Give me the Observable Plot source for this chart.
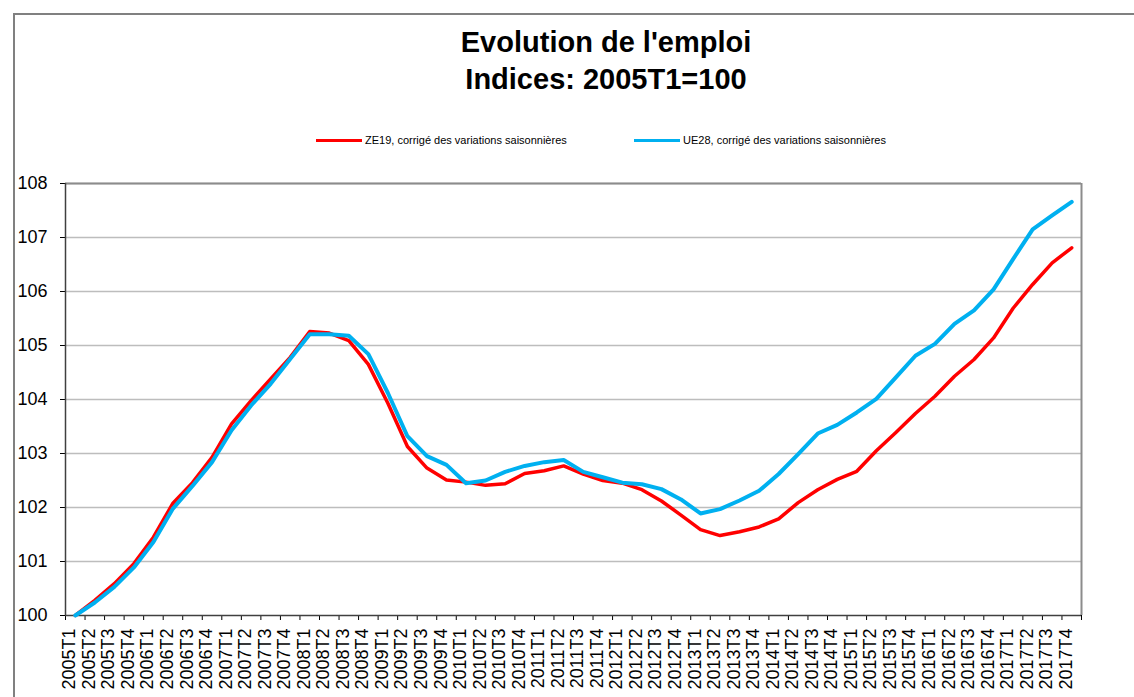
<!DOCTYPE html>
<html>
<head>
<meta charset="utf-8">
<script src="https://cdn.jsdelivr.net/npm/d3@7"></script>
<script src="https://cdn.jsdelivr.net/npm/@observablehq/plot@0.6"></script>
<style>
  html, body { margin: 0; padding: 0; background: #fff; }
  body { position: relative; width: 1134px; height: 697px; overflow: hidden; font-family: "Liberation Sans", Arial, sans-serif; }
  #border { position: absolute; left: 13px; top: 13px; width: 1200px; height: 800px; border-left: 2px solid #808080; border-top: 2px solid #808080; }
  #title { position: absolute; left: 0; width: 1212px; top: 24px; text-align: center; font-weight: bold; font-size: 29px; line-height: 37px; color: #000; }
  .leg { position: absolute; top: 132px; font-size: 11px; line-height: 16px; color: #000; white-space: nowrap; }
  .leg span.sw { display: inline-block; width: 46px; height: 3px; vertical-align: middle; margin-right: 3px; position: relative; top: -1px; }
  #chart { position: absolute; left: 0; top: 170px; }
  #chart svg { font-family: "Liberation Sans", Arial, sans-serif; }
</style>
</head>
<body>
<div id="border"></div>
<div id="title">Evolution de l'emploi<br>Indices: 2005T1=100</div>
<div id="legend"></div>
<div id="chart"></div>
<script>
const quarters = ["2005T1","2005T2","2005T3","2005T4","2006T1","2006T2","2006T3","2006T4",
  "2007T1","2007T2","2007T3","2007T4","2008T1","2008T2","2008T3","2008T4",
  "2009T1","2009T2","2009T3","2009T4","2010T1","2010T2","2010T3","2010T4",
  "2011T1","2011T2","2011T3","2011T4","2012T1","2012T2","2012T3","2012T4",
  "2013T1","2013T2","2013T3","2013T4","2014T1","2014T2","2014T3","2014T4",
  "2015T1","2015T2","2015T3","2015T4","2016T1","2016T2","2016T3","2016T4",
  "2017T1","2017T2","2017T3","2017T4"];
const ze19 = [100, 100.28, 100.59, 100.96, 101.45, 102.08, 102.46, 102.93, 103.55, 103.98, 104.38, 104.78,
  105.26, 105.23, 105.09, 104.65, 103.93, 103.13, 102.73, 102.51, 102.47, 102.41, 102.44, 102.63,
  102.68, 102.77, 102.62, 102.50, 102.45, 102.33, 102.12, 101.86, 101.59, 101.48, 101.55, 101.64,
  101.79, 102.09, 102.33, 102.52, 102.67, 103.05, 103.39, 103.74, 104.06, 104.43, 104.74, 105.14,
  105.69, 106.13, 106.53, 106.81];
const ue28 = [100, 100.24, 100.53, 100.89, 101.36, 101.98, 102.40, 102.84, 103.43, 103.89, 104.29, 104.75,
  105.21, 105.21, 105.18, 104.84, 104.12, 103.32, 102.95, 102.79, 102.45, 102.50, 102.66, 102.77,
  102.84, 102.88, 102.66, 102.56, 102.46, 102.43, 102.34, 102.15, 101.89, 101.97, 102.13, 102.31,
  102.62, 102.99, 103.37, 103.53, 103.76, 104.01, 104.41, 104.81, 105.03, 105.40, 105.65, 106.04,
  106.60, 107.15, 107.41, 107.66];
const yTicks = [100, 101, 102, 103, 104, 105, 106, 107, 108];
const seriesNames = ["ZE19, corrigé des variations saisonnières", "UE28, corrigé des variations saisonnières"];
const seriesColors = ["#ff0000", "#00b0f0"];

// legend
const legend = document.getElementById("legend");
const legLeft = [316, 634];
seriesNames.forEach((n, k) => {
  const d = document.createElement("div");
  d.className = "leg";
  d.style.left = legLeft[k] + "px";
  d.innerHTML = `<span class="sw" style="background:${seriesColors[k]}"></span>${n}`;
  legend.appendChild(d);
});

const idx = quarters.map((q, i) => i);
const bounds = [-0.5, ...idx.map(i => i + 0.5)];
const redData = ze19.map((v, i) => ({i, v}));
const blueData = ue28.map((v, i) => ({i, v}));

const chart = Plot.plot({
  width: 1134,
  height: 527,
  marginTop: 13,
  marginBottom: 82,
  marginLeft: 65,
  marginRight: 53,
  style: {fontSize: "18px", fontFamily: "Liberation Sans, Arial, sans-serif", color: "#000", background: "transparent"},
  x: {type: "linear", domain: [-0.5, quarters.length - 0.5], ticks: bounds, tickSize: 5, tickFormat: () => "", label: null},
  y: {domain: [100, 108], ticks: yTicks, tickSize: 5, tickPadding: 13, tickFormat: d => String(d), label: null},
  marks: [
    Plot.ruleY(yTicks.slice(1), {stroke: "#bdbdbd", strokeWidth: 1.3}),
    Plot.ruleY([108], {stroke: "#8c8c8c", strokeWidth: 2}),
    Plot.ruleX([quarters.length - 0.5], {stroke: "#8c8c8c", strokeWidth: 2}),
    Plot.ruleX([-0.5], {stroke: "#404040", strokeWidth: 1.5}),
    Plot.ruleY([100], {stroke: "#404040", strokeWidth: 1.5}),
    Plot.line(redData, {x: "i", y: "v", stroke: seriesColors[0], strokeWidth: 3.5}),
    Plot.line(blueData, {x: "i", y: "v", stroke: seriesColors[1], strokeWidth: 4}),
    Plot.text(quarters, {x: (d, i) => i, frameAnchor: "bottom", dy: 13, rotate: -90, textAnchor: "end", fontSize: 18, fill: "#000", text: d => d})
  ]
});
document.getElementById("chart").appendChild(chart);
</script>
</body>
</html>
